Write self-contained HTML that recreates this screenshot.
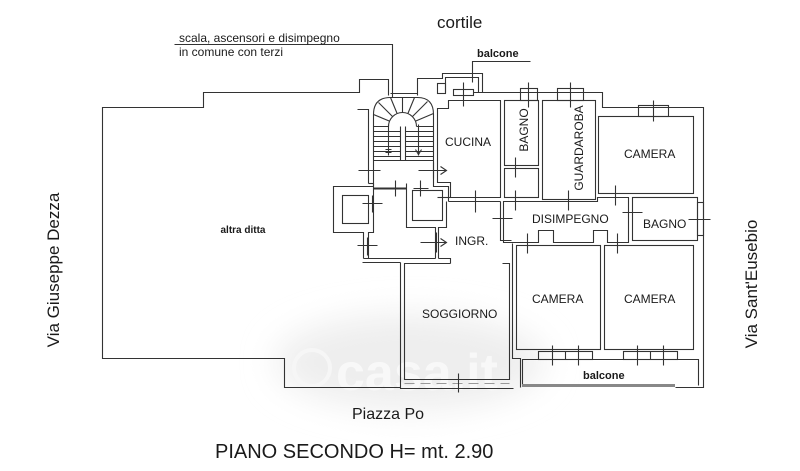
<!DOCTYPE html>
<html><head><meta charset="utf-8">
<style>
html,body{margin:0;padding:0;background:#fff;}
svg{display:block;}
text{font-family:"Liberation Sans",Arial,sans-serif;fill:#1a1a1a;}
</style></head><body>
<svg width="800" height="471" viewBox="0 0 800 471" xmlns="http://www.w3.org/2000/svg">
<defs>
<filter id="bl" x="-50%" y="-50%" width="200%" height="200%"><feGaussianBlur stdDeviation="16"/></filter>
</defs>
<rect width="800" height="471" fill="#fff"/>
<!-- watermark haze -->
<ellipse cx="410" cy="362" rx="135" ry="48" fill="#eeeeee" filter="url(#bl)"/>
<circle cx="312" cy="368" r="18" fill="none" stroke="#f6f6f6" stroke-width="4"/>
<text x="336" y="390" font-size="52" font-weight="bold" style="fill:#f8f8f8">casa.it</text>

<g transform="translate(0.5,0.5)" stroke="#333" stroke-width="1.1" fill="none">
<!-- leader lines -->
<path d="M174,44 H392 V97"/>
<path d="M530,61 H472 V82"/>
<!-- altra ditta outline -->
<path d="M388,95 V79 H359 V92 H203 V107 H102 V358 H284 V387 H400"/>

<!-- stair region -->
<path d="M357,109 H368 V183"/>
<path d="M373,186 V114 Q373,97 390,97 H417 Q433,97 433,114 V182"/>
<path d="M390,93 H417"/>
<path d="M417,95 V78 H442 V73 H482 V92"/>
<path d="M445,92 V77 H478 V92"/>
<rect x="437" y="83" width="8" height="10"/>
<!-- stair details -->
<path d="M388,126 A14,14 0 0 1 416,126"/>
<path d="M400,126 V160 M405,126 V160"/>
<path d="M373,131 H400 M373,136 H400 M373,141 H400 M373,146 H400 M373,151 H400 M373,156 H400"/>
<path d="M405,131 H433 M405,136 H433 M405,141 H433 M405,146 H433 M405,151 H433 M405,156 H433"/>
<path d="M388,126 L373,126 M389,120.6 L373,114 M392,116 L378,102 M396.6,113 L390,97 M402,112 L402,97 M407.4,113 L414,97 M412,116 L427,101 M415,120.6 L433,113 M416,126 L433,126"/>
<path d="M373,160 H433"/>
<path d="M388,124 V155 M418,124 V155"/>
<path d="M415,149 L418,154 L421,149"/>
<path d="M385,149 H391 M385,152 H391"/>

<!-- kitchen top area -->
<rect x="453" y="89" width="20" height="6"/>
<path d="M463,82 V106"/>
<path d="M473,92 H602 V107 H703 V387 H675"/>
<!-- kitchen -->
<path d="M437,182 V108 H448 V100 H500 V197 H450 V182 Z"/>
<!-- bagno, closet, guardaroba -->
<rect x="504" y="100" width="34" height="65"/>
<rect x="504" y="168" width="34" height="29"/>
<rect x="542" y="100" width="53" height="99"/>
<rect x="520" y="88" width="17" height="12"/>
<path d="M528,82 V107"/>
<rect x="557" y="88" width="26" height="12"/>
<path d="M570,82 V107"/>
<!-- camera top -->
<rect x="598" y="116" width="95" height="77"/>
<rect x="638" y="105" width="30" height="11"/>
<path d="M653,100 V121"/>
<!-- disimpegno -->
<path d="M503,242 V201 H597 V197 H628 V242 H607 V230 H593 V242 H553 V230 H538 V242 Z"/>
<!-- bagno right -->
<rect x="632" y="197" width="65" height="43"/>
<rect x="697" y="202" width="6" height="33"/>
<!-- lower cameras -->
<rect x="516" y="245" width="84" height="104"/>
<rect x="604" y="245" width="89" height="104"/>
<rect x="538" y="351" width="54" height="8"/>
<path d="M565,351 V359"/>
<rect x="623" y="351" width="54" height="8"/>
<path d="M650,351 V359"/>
<path d="M552,345 V365 M578,345 V365 M637,345 V365 M663,345 V365"/>
<!-- balcony -->
<path d="M512,243 V358 H520 V387"/>
<path d="M522,385 V359 H698 V385"/>
<!-- soggiorno / ingr -->
<path d="M450,263 H404 V379 H509 V263 H502"/>
<path d="M400,262 V388 H513"/>
<path d="M500,201 V240 H511"/>
<path d="M448,201 H500"/>
<path d="M450,197 H437"/>
<path d="M404,383 H509" stroke="#999" stroke-dasharray="10,6"/>
<path d="M458,373 V392"/>
<!-- elevators -->
<path d="M373,186 H333 V232 H363 V258"/>
<rect x="342" y="195" width="26" height="28"/>
<path d="M373,183 V232 H368 V258"/>
<path d="M368,183 H373"/>
<path d="M373,188 H406" stroke-width="2"/>
<path d="M406,183 V227 H435 V258"/>
<rect x="412" y="190" width="30" height="30"/>
<path d="M433,182 V186 H448 V201"/>
<path d="M438,258 V227 H446 V201"/>
<path d="M363,258 H435 M438,258 H450 V263"/>
<path d="M362,262 H400"/>
<!-- crosses / doors -->
<path d="M358,170 H380"/>
<path d="M418,170 H445 M440,166 L446,170 L440,174"/>
<path d="M433,162 V178"/>
<path d="M420,242 H445 M440,238 L446,242 L440,246"/>
<path d="M436,232 V252"/>
<path d="M362,203 H382 M372,195 V212"/>
<path d="M357,245 H377 M367,237 V255"/>
<path d="M395,180 V196"/>
<path d="M420,180 V196 M413,188 H428"/>
<path d="M475,190 V212"/>
<path d="M492,218 H512"/>
<path d="M515,157 V177 M515,190 V210"/>
<path d="M568,190 V210"/>
<path d="M615,185 V205"/>
<path d="M622,212 H642"/>
<path d="M688,219 H710"/>
<path d="M527,233 V253 M617,233 V253"/>
</g>
<!-- balcony railing -->
<path d="M522,385.5 H675" stroke="#888" stroke-width="3"/>

<!-- labels -->
<text x="179" y="42" font-size="12">scala, ascensori e disimpegno</text>
<text x="179" y="56" font-size="12">in comune con terzi</text>
<text x="437" y="28" font-size="17">cortile</text>
<text x="477" y="57" font-size="11" font-weight="bold">balcone</text>
<text x="243" y="233" font-size="10" font-weight="bold" text-anchor="middle">altra ditta</text>
<text x="445" y="146" font-size="12">CUCINA</text>
<text x="624" y="158" font-size="12">CAMERA</text>
<text transform="translate(528,130) rotate(-90)" font-size="12" text-anchor="middle">BAGNO</text>
<text transform="translate(583,148) rotate(-90)" font-size="12" text-anchor="middle">GUARDAROBA</text>
<text x="532" y="223" font-size="12">DISIMPEGNO</text>
<text x="643" y="228" font-size="12">BAGNO</text>
<text x="455" y="245" font-size="12">INGR.</text>
<text x="422" y="318" font-size="12">SOGGIORNO</text>
<text x="532" y="303" font-size="12">CAMERA</text>
<text x="624" y="303" font-size="12">CAMERA</text>
<text x="583" y="379" font-size="11" font-weight="bold">balcone</text>
<text transform="translate(59,270) rotate(-90)" font-size="17" text-anchor="middle">Via Giuseppe Dezza</text>
<text transform="translate(757,284) rotate(-90)" font-size="17" text-anchor="middle">Via Sant'Eusebio</text>
<text x="352" y="419" font-size="16">Piazza Po</text>
<text x="215" y="458" font-size="20">PIANO SECONDO H= mt. 2.90</text>
</svg>
</body></html>
